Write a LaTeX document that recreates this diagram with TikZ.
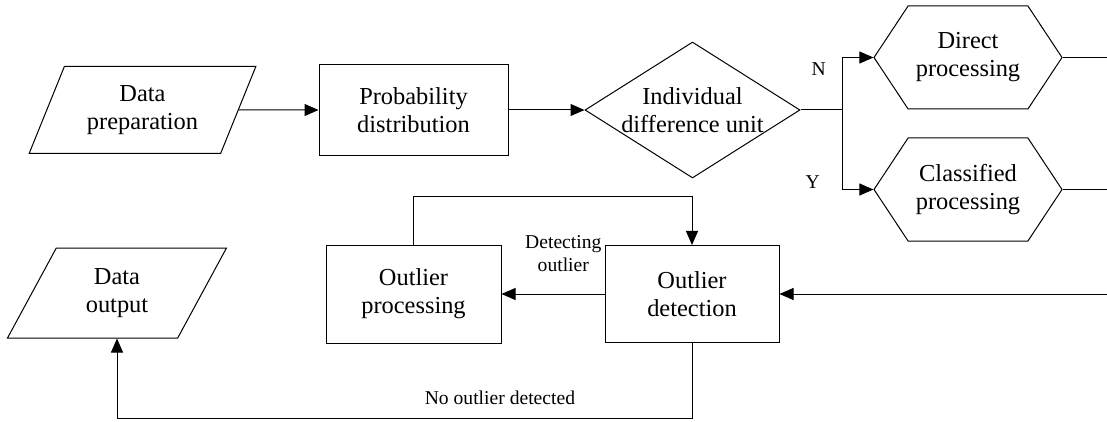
\documentclass[tikz,border=0pt]{standalone}
\usepackage{fontspec}
\setmainfont{Liberation Serif}
\usetikzlibrary{shapes.geometric, shapes.symbols, arrows.meta, positioning}
\newcommand{\boxfont}{\fontsize{12.2}{14}\selectfont}
\newcommand{\notefont}{\fontsize{9.8}{11.5}\selectfont}
\tikzset{
    % Box styles with sharp corners
    process/.style={
        rectangle,
        draw=black,
        line width=0.5pt,
        inner sep=0pt,
        align=center,
        font=\boxfont
    },
    data io/.style={
        trapezium,
        trapezium left angle=63,
        trapezium right angle=117,
        trapezium stretches=true,
        draw=black,
        line width=0.5pt,
        inner sep=0pt,
        align=center,
        font=\boxfont
    },
    decision/.style={
        diamond,
        draw=black,
        line width=0.5pt,
        aspect=1.58,
        inner sep=-1pt,
        minimum width=107.5pt,
        minimum height=68pt,
        align=center,
        font=\boxfont
    },
    branch box/.style={
        signal,
        signal to=east and west,
        signal pointer angle=113,
        draw=black,
        line width=0.5pt,
        inner sep=0pt,
        minimum width=94pt,
        minimum height=51.5pt,
        align=center,
        font=\boxfont
    },
    note/.style={
        align=center,
        font=\notefont
    },
    arrow style/.style={
        -{Triangle[length=7pt,width=6pt]},
        line width=0.5pt,
        black
    },
    line style/.style={
        line width=0.5pt,
        black
    }
}
\begin{document}
\begin{tikzpicture}[x=0.5pt, y=-0.5pt]
        \useasboundingbox (0,0) rectangle (1107,422);

        % Top row
        \node[data io, minimum width=113.5pt, minimum height=43.5pt] (prep) at (142.5,110) {Data\\preparation};
        \node[process, minimum width=94.5pt, minimum height=45.5pt] (prob) at (413.5,110) {Probability\\distribution};
        \node[decision] (unit) at (692.5,110) {Individual\\difference unit};
        \node[branch box] (direct) at (968,57.5) {Direct\\processing};
        \node[branch box] (classified) at (968,189.5) {Classified\\processing};

        % Bottom row
        \node[data io, minimum width=110pt, minimum height=45pt] (output) at (117,293) {Data\\output};
        \node[process, minimum width=87.5pt, minimum height=49pt] (handle) at (413.5,294) {Outlier\\processing};
        \node[process, minimum width=87pt, minimum height=48.5pt] (detect) at (692,294) {Outlier\\detection};

        % Branch point and ends running off the right edge
        \coordinate (split) at (842,110);
        \coordinate (directout) at (1107,57.5);
        \coordinate (classout) at (1107,189.5);
        \coordinate (backin) at (1107,294);

        \draw[arrow style] (prep) -- (prob);
        \draw[arrow style] (prob) -- (unit);
        \draw[line style] (unit.east) -- (split);
        \draw[arrow style] (split) |- node[note, pos=0.5, below left, xshift=-4.5pt, yshift=1pt] {N} (direct.west);
        \draw[arrow style] (split) |- node[note, pos=0.5, above left, xshift=-7.5pt, yshift=-3pt] {Y} (classified.west);
        \draw[line style] (direct.east) -- (directout);
        \draw[line style] (classified.east) -- (classout);

        \draw[arrow style] (backin) -- (detect.east);
        \draw[arrow style] (detect.west) -- node[note, pos=0.4, above, yshift=7.5pt] {Detecting\\outlier} (handle.east);
        \draw[arrow style] (handle.north) -- ++(0,-48) -| (detect.north);
        \draw[arrow style] (detect.south) -- ++(0,75) -| node[note, pos=0.167, above, yshift=3pt] {No outlier detected} (output.south);
    \end{tikzpicture}
\end{document}
